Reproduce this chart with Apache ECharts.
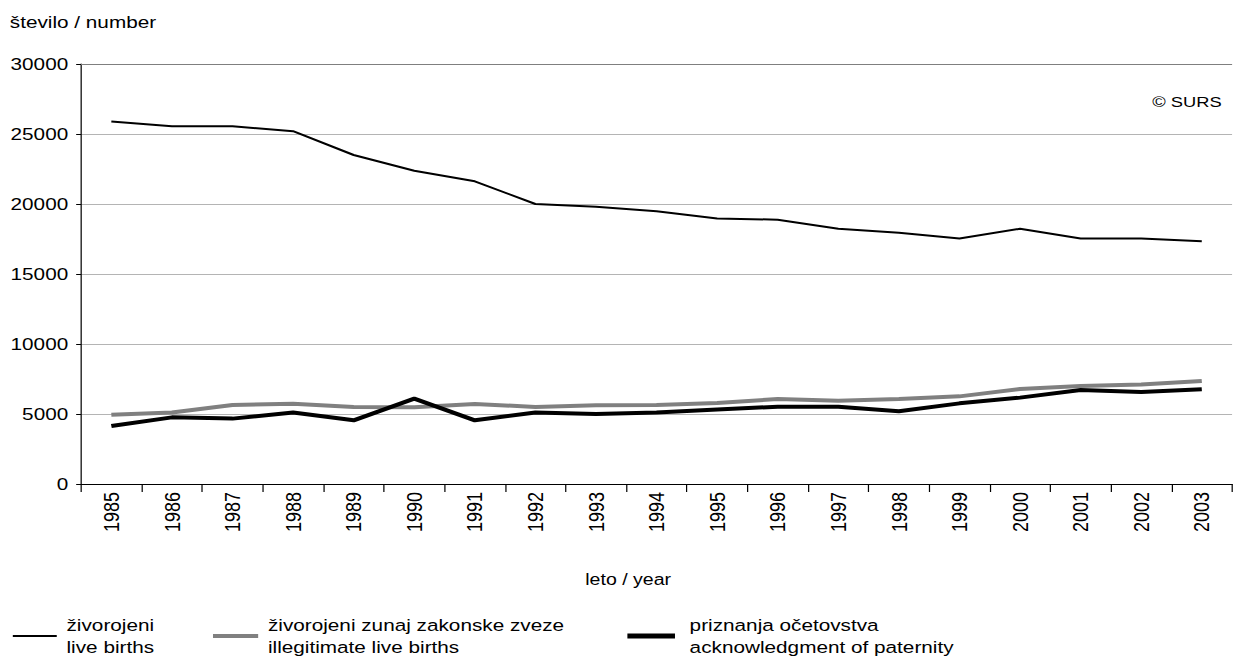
<!DOCTYPE html>
<html><head><meta charset="utf-8">
<script src="https://cdn.jsdelivr.net/npm/echarts@6/dist/echarts.min.js"></script>
<style>
html,body{margin:0;padding:0;background:#fff;overflow:hidden}
#c{width:1011px;height:659px;transform:scaleX(1.2206);transform-origin:0 0}
</style>
</head><body><div id="c"></div>
<script>
var years = ['1985','1986','1987','1988','1989','1990','1991','1992','1993','1994','1995','1996','1997','1998','1999','2000','2001','2002','2003'];
var liveBirths = [25900,25550,25550,25200,23500,22380,21620,20000,19800,19480,18970,18880,18230,17950,17540,18230,17540,17540,17340];
var illegitimate = [4950,5100,5640,5740,5500,5480,5720,5500,5620,5650,5790,6070,5950,6070,6260,6790,7000,7100,7360];
var paternity = [4140,4760,4670,5100,4550,6100,4550,5100,5000,5110,5330,5520,5520,5190,5760,6170,6710,6570,6760];
var seriesNames = ['živorojeni\nlive births','živorojeni zunaj zakonske zveze\nillegitimate live births','priznanja očetovstva\nacknowledgment of paternity'];

var font = 'Liberation Sans, Arial, sans-serif';
var chart = echarts.init(document.getElementById('c'), null, {renderer:'svg'});
function leg(name, left, w, h, pad){
  return {data:[name], left:left, top:614, padding:0, orient:'horizontal', itemWidth:w, itemHeight:h, itemGap:0,
    icon:'rect', textStyle:{fontFamily:font, fontSize:17, color:'#000', lineHeight:22, padding:[0,0,0,pad]},
    selectedMode:false};
}
chart.setOption({
  animation:false,
  textStyle:{fontFamily:font},
  grid:{left:66.4, top:64, right:1.6, bottom:175},
  title:[
    {text:'število / number', left:8, top:14, padding:0, textStyle:{fontFamily:font, fontSize:17, fontWeight:'normal', color:'#000'}},
    {text:'leto / year', left:479.5, top:572, padding:0, textStyle:{fontFamily:font, fontSize:16, fontWeight:'normal', color:'#000'}},
    {text:'© SURS', left:944, top:95, padding:0, textStyle:{fontFamily:font, fontSize:15, fontWeight:'normal', color:'#000'}}
  ],
  legend:[leg(seriesNames[0], 10.5, 36, 2, 3), leg(seriesNames[1], 174.5, 37, 4, 3), leg(seriesNames[2], 514, 39, 5, 7)],
  xAxis:{type:'category', data:years, boundaryGap:true,
    axisLine:{lineStyle:{color:'#000', width:1}},
    axisTick:{show:true, alignWithLabel:false, length:8, lineStyle:{color:'#000'}},
    axisLabel:{rotate:90, fontSize:18, color:'#000', margin:8, fontFamily:font},
    splitLine:{show:false}},
  yAxis:{type:'value', min:0, max:30000, interval:5000,
    axisLine:{show:true, lineStyle:{color:'#000', width:1}},
    axisTick:{show:true, length:4, lineStyle:{color:'#000'}},
    axisLabel:{fontSize:17, color:'#000', margin:10.5, fontFamily:font, formatter:function(v){return String(v);}},
    splitLine:{show:true, lineStyle:{color:'#b4b4b4', width:1}}},
  series:[
    {name:seriesNames[0], type:'line', data:liveBirths, symbol:'none', lineStyle:{color:'#000', width:2}, itemStyle:{color:'#000'}, z:3,
     markLine:{silent:true, symbol:'none', label:{show:false}, lineStyle:{color:'#7f7f7f', width:1, type:'solid'}, data:[{yAxis:30000}]}},
    {name:seriesNames[1], type:'line', data:illegitimate, symbol:'none', lineStyle:{color:'#808080', width:4}, itemStyle:{color:'#808080'}, z:2},
    {name:seriesNames[2], type:'line', data:paternity, symbol:'none', lineStyle:{color:'#000', width:4}, itemStyle:{color:'#000'}, z:4}
  ]
});
</script></body></html>
